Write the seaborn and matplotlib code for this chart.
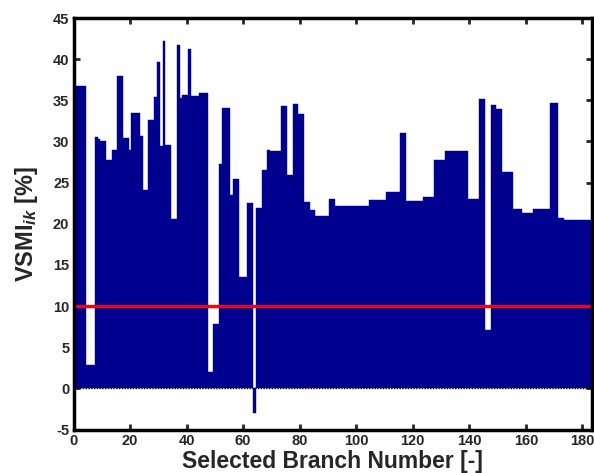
import numpy as np
import pandas as pd
import seaborn as sns
import matplotlib
matplotlib.use("Agg")
import matplotlib.pyplot as plt

# Branch numbers (0..183) and VSMI values [%]
branch = list(range(0, 184))
vsmi = [
    36.7, 36.7, 36.7, 36.7, 36.7,          # 0-4
    2.8, 2.8, 2.8,                          # 5-7
    30.5, 30.3, 30.0, 30.0,                 # 8-11
    27.7, 27.7, 29.0, 29.0,                 # 12-15
    37.9, 37.9, 30.4, 30.4, 29.0,           # 16-20
    33.4, 33.4, 33.4, 30.7,                 # 21-24
    24.1, 24.1, 32.6, 32.6,                 # 25-28
    35.4, 39.6, 29.5, 42.2,                 # 29-32
    29.6, 29.6, 20.6, 20.6,                 # 33-36
    41.7, 35.3, 35.7, 35.7, 41.2,           # 37-41
    35.5, 35.5, 35.5,                       # 42-44
    35.9, 35.9, 35.9,                       # 45-47
    2.0, 2.0, 7.8, 7.8,                     # 48-51
    27.3, 34.1, 34.1, 34.1,                 # 52-55
    23.5, 25.4, 25.4,                       # 56-58
    13.5, 13.5, 13.5,                       # 59-61
    22.5, 22.5, -3.0,                       # 62-64
    21.9, 21.9, 26.5, 26.5,                 # 65-68
    29.0, 28.8, 28.8, 28.8, 28.8,           # 69-73
    34.3, 34.3, 25.9, 25.9,                 # 74-77
    34.6, 34.6, 33.3, 33.3,                 # 78-81
    22.6, 22.6, 21.7, 21.7,                 # 82-85
    21.0, 21.0, 21.0, 21.0, 21.0,           # 86-90
    23.0, 23.0,                             # 91-92
    22.1, 22.1, 22.1, 22.1, 22.1, 22.1,     # 93-98
    22.1, 22.1, 22.1, 22.1, 22.1, 22.1,     # 99-104
    22.9, 22.9, 22.9, 22.9, 22.9, 22.9,     # 105-110
    23.9, 23.9, 23.9, 23.9, 23.9,           # 111-115
    31.0, 31.0,                             # 116-117
    22.8, 22.8, 22.8, 22.8, 22.8, 22.8,     # 118-123
    23.2, 23.2, 23.2, 23.2,                 # 124-127
    27.8, 27.8, 27.8, 27.8,                 # 128-131
    28.8, 28.8, 28.8, 28.8,                 # 132-135
    28.8, 28.8, 28.8, 28.8,                 # 136-139
    23.0, 23.0, 23.0, 23.0,                 # 140-143
    35.2, 35.2, 7.1, 7.1,                   # 144-147
    34.4, 34.4, 34.0, 34.0,                 # 148-151
    26.3, 26.3, 26.3, 26.3,                 # 152-155
    21.8, 21.8, 21.8,                       # 156-158
    21.3, 21.3, 21.3, 21.3,                 # 159-162
    21.8, 21.8, 21.8, 21.8, 21.8, 21.8,     # 163-168
    34.7, 34.7, 34.7,                       # 169-171
    20.7, 20.7,                             # 172-173
    20.5, 20.5, 20.5, 20.5, 20.5,           # 174-178
    20.5, 20.5, 20.5, 20.5, 20.5,           # 179-183
]
threshold = 10

xticks = [0, 20, 40, 60, 80, 100, 120, 140, 160, 180]
yticks = [-5, 0, 5, 10, 15, 20, 25, 30, 35, 40, 45]

sns.set_style("white")
plt.rcParams['font.family'] = ['Liberation Sans', 'DejaVu Sans']
plt.rcParams['font.weight'] = 'bold'
plt.rcParams['mathtext.fontset'] = 'custom'
plt.rcParams['mathtext.rm'] = 'Liberation Sans:bold'
plt.rcParams['mathtext.it'] = 'Liberation Sans:bold:italic'

df = pd.DataFrame({"branch": branch, "vsmi": vsmi})

fig = plt.figure(figsize=(5.94, 4.73), dpi=100)
ax = fig.add_axes([73.5 / 594, 1 - 429.5 / 473, (591.5 - 73.5) / 594, (429.5 - 18) / 473])

sns.barplot(data=df, x="branch", y="vsmi", native_scale=True, width=1,
            color="#00008F", saturation=1, errorbar=None,
            edgecolor="#00008F", linewidth=0.3, ax=ax)

ax.axhline(0, color="black", lw=1.0, ls=(0, (1, 1)), zorder=3)
ax.axhline(threshold, color="#FF0000", lw=2.5, zorder=4)

ax.set_xlim(0, 183.2)
ax.set_ylim(-5, 45)
ax.set_xticks(xticks)
ax.set_yticks(yticks)
ax.set_xticklabels([str(t) for t in xticks], fontsize=10.5, fontweight='bold')
ax.set_yticklabels([str(t) for t in yticks], fontsize=10.5, fontweight='bold')
ax.tick_params(direction='in', length=4, width=2, top=True, right=True,
               bottom=True, left=True, pad=3)
for s in ax.spines.values():
    s.set_visible(True)
    s.set_linewidth(2.5)
    s.set_color('black')
    s.set_zorder(5)

ax.set_xlabel("Selected Branch Number [-]", fontsize=16.5, fontweight='bold', labelpad=2)
ax.set_ylabel(r"VSMI$_{ik}$ [%]", fontsize=17, fontweight='bold', labelpad=9)

fig.savefig("out.png", dpi=100)
